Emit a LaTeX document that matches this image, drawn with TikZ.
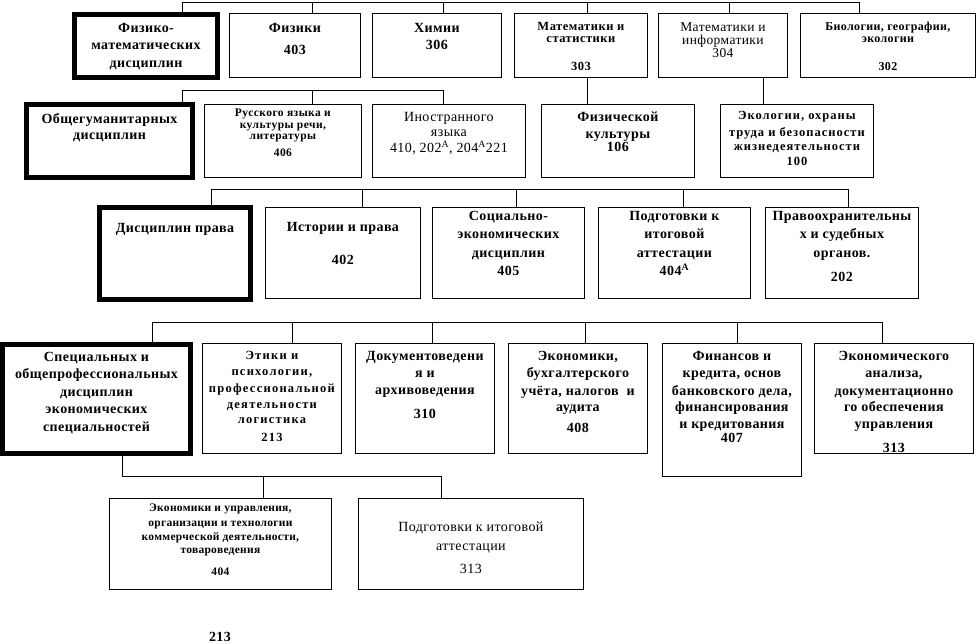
\documentclass[tikz,border=0pt]{standalone}
\usepackage{fontspec}
\setmainfont{Liberation Serif}
\newfontfamily\bigfam[LetterSpace=3]{Liberation Serif}
\usetikzlibrary{positioning}

\tikzset{
  cell/.style={draw, line width=0.8pt, inner sep=0pt, anchor=north west},
  chair/.style={cell, line width=5pt},
  bus/.style={line width=0.8pt},
  big/.style={font=\bigfam\fontsize{14}{17.5}\selectfont, align=center, inner sep=0pt,
    execute at begin node={\rule{0pt}{10pt}}},
  bigb/.style={big, font=\bigfam\bfseries\fontsize{14}{17.5}\selectfont},
  small/.style n args={3}{font=\bfseries\fontsize{#1}{#2}\selectfont\addfontfeature{LetterSpace=#3},
    align=center, inner sep=0pt, execute at begin node={\rule{0pt}{9pt}}}
}

\begin{document}
\begin{tikzpicture}[x=1pt,y=-1pt]
  \useasboundingbox (0,0) rectangle (977,644);

  % first row
  \node[chair, minimum width=143pt, minimum height=63pt] (fm) at (72,12) {};
  \node[cell, minimum width=131pt, minimum height=64pt] (fiz) at (229,13) {};
  \node[cell, minimum width=129pt, minimum height=64pt] (him) at (372,13) {};
  \node[cell, minimum width=133pt, minimum height=64pt] (mst) at (514,13) {};
  \node[cell, minimum width=129pt, minimum height=64pt] (minf) at (658,13) {};
  \node[cell, minimum width=175pt, minimum height=64pt] (bio) at (800,13) {};

  \node[bigb, below=11pt of fm.north] (fmT) {Физико-\\математических\\дисциплин};
  \node[bigb, below=10pt of fiz.north] (fizT) {Физики\\[4.5pt]403};
  \node[bigb, below=10pt of him.north] (himT) {Химии\\[-0.5pt]306};
  \node[small={12.5}{12}{4}, below=9pt of mst.north] (mstT) {Математики и\\статистики\\[16pt]303};
  \node[big, font=\bigfam\fontsize{13.5}{13.5}\selectfont, below=9pt of minf.north] (minfT) {Математики и\\информатики\\[-0.5pt]304};
  \node[small={12}{12}{3}, below=9pt of bio.north] (bioT) {Биологии, географии,\\экологии\\[16pt]302};

  \draw[bus] (182,2) -- (859,2);
  \foreach \x/\n in {182/fm,312/fiz,443/him,587/mst,729/minf,859/bio}
    \draw[bus] (\x,2) -- (\n.north -| \x,0);

  % second row
  \node[chair, minimum width=166pt, minimum height=73pt] (obg) at (24,102) {};
  \node[cell, minimum width=157pt, minimum height=73pt] (rus) at (204,104) {};
  \node[cell, minimum width=153pt, minimum height=73pt] (ino) at (372,104) {};
  \node[cell, minimum width=153pt, minimum height=73pt] (fk) at (541,104) {};
  \node[cell, minimum width=153pt, minimum height=73pt] (eko) at (720,104) {};

  \node[bigb, below=11pt of obg.north] (obgT) {Общегуманитарных\\[-1.5pt]дисциплин};
  \node[small={11.5}{11.5}{4}, below=5pt of rus.north] (rusT) {Русского языка и\\[0.5pt]культуры речи,\\[-1pt]литературы\\[5.5pt]406};
  \node[big, below=8pt of ino.north] (inoT) {Иностранного\\[-2.5pt]языка\\[-1.5pt]410, 202\textsuperscript{А}, 204\textsuperscript{А}221};
  \node[bigb, below=8pt of fk.north] (fkT) {Физической\\[-1pt]культуры\\[-4pt]106};
  \node[small={12.5}{15}{8}, below=7pt of eko.north] (ekoT) {Экологии, охраны\\[2pt]труда и безопасности\\[-1pt]жизнедеятельности\\100};

  \draw[bus] (182,90) -- (443,90);
  \foreach \x/\n in {182/obg,312/rus,443/ino}
    \draw[bus] (\x,90) -- (\n.north -| \x,0);
  \draw[bus] (mst.south -| 587,0) -- (fk.north -| 587,0);
  \draw[bus] (minf.south -| 763,0) -- (eko.north -| 763,0);

  % third row
  \node[chair, minimum width=151pt, minimum height=92pt] (dpr) at (97,205) {};
  \node[cell, minimum width=155pt, minimum height=91pt] (ist) at (265,207) {};
  \node[cell, minimum width=152pt, minimum height=91pt] (soc) at (432,207) {};
  \node[cell, minimum width=152pt, minimum height=91pt] (pod) at (598,207) {};
  \node[cell, minimum width=153pt, minimum height=91pt] (pra) at (765,207) {};

  \node[bigb, below=17pt of dpr.north] (dprT) {Дисциплин права};
  \node[bigb, below=15pt of ist.north] (istT) {Истории и права\\[15.5pt]402};
  \node[bigb, below=4pt of soc.north] (socT) {Социально-\\[1pt]экономических\\[1pt]дисциплин\\[0.5pt]405};
  \node[bigb, below=4pt of pod.north] (podT) {Подготовки к\\[1pt]итоговой\\[1pt]аттестации\\[0.5pt]404\textsuperscript{А}};
  \node[bigb, below=4pt of pra.north] (praT) {Правоохранительны\\[1pt]х и судебных\\[1pt]органов.\\[7pt]202};

  \draw[bus] (211,189) -- (848,189);
  \foreach \x/\n in {211/dpr,362/ist,516/soc,683/pod,848/pra}
    \draw[bus] (\x,189) -- (\n.north -| \x,0);

  % fourth row
  \node[chair, minimum width=188pt, minimum height=109pt] (spec) at (0,342) {};
  \node[cell, minimum width=139pt, minimum height=110pt] (eti) at (202,343) {};
  \node[cell, minimum width=139pt, minimum height=110pt] (dok) at (355,343) {};
  \node[cell, minimum width=139pt, minimum height=110pt] (ekn) at (508,343) {};
  \node[cell, minimum width=139pt, minimum height=133pt] (fin) at (662,343) {};
  \node[cell, minimum width=159pt, minimum height=110pt] (ean) at (814,343) {};

  \node[bigb, below=10pt of spec.north] (specT) {Специальных и\\общепрофессиональных\\дисциплин\\экономических\\специальностей};
  \node[small={12.5}{16.5}{10}, below=8pt of eti.north] (etiT) {Этики и\\психологии,\\профессиональной\\деятельности\\[-1.5pt]логистика\\[1.5pt]213};
  \node[bigb, below=8pt of dok.north] (dokT) {Документоведени\\[-0.5pt]я и\\[-0.5pt]архивоведения\\[6.5pt]310};
  \node[bigb, below=8pt of ekn.north] (eknT) {Экономики,\\бухгалтерского\\учёта, налогов\ \ и\\[-1.5pt]аудита\\[3.5pt]408};
  \node[bigb, below=8pt of fin.north] (finT) {Финансов и\\кредита, основ\\банковского дела,\\[-1.5pt]финансирования\\и кредитования\\[-3.5pt]407};
  \node[bigb, below=8pt of ean.north] (eanT) {Экономического\\анализа,\\документационно\\[-1.5pt]го обеспечения\\управления\\[6.5pt]313};

  \draw[bus] (152,322) -- (882,322);
  \foreach \x/\n in {152/spec,292/eti,432/dok,585/ekn,737/fin,882/ean}
    \draw[bus] (\x,322) -- (\n.north -| \x,0);

  % fifth row
  \node[cell, minimum width=222pt, minimum height=91pt] (eku) at (109,498) {};
  \node[cell, minimum width=225pt, minimum height=91pt] (pit) at (358,498) {};

  \node[small={11.5}{14.5}{2.5}, below=6pt of eku.north] (ekuT) {Экономики и управления,\\организации и технологии\\коммерческой деятельности,\\[-1.5pt]товароведения\\[7.5pt]404};
  \node[big, below=24pt of pit.north] (pitT) {Подготовки к итоговой\\[1.5pt]аттестации\\[5.5pt]313};

  \draw[bus] (spec.south -| 122,0) -- (122,476) -- (441,476) -- (pit.north -| 441,0);
  \draw[bus] (263,476) -- (eku.north -| 263,0);

  \node[bigb, anchor=base] (aud) at (220,641) {213};
\end{tikzpicture}
\end{document}
